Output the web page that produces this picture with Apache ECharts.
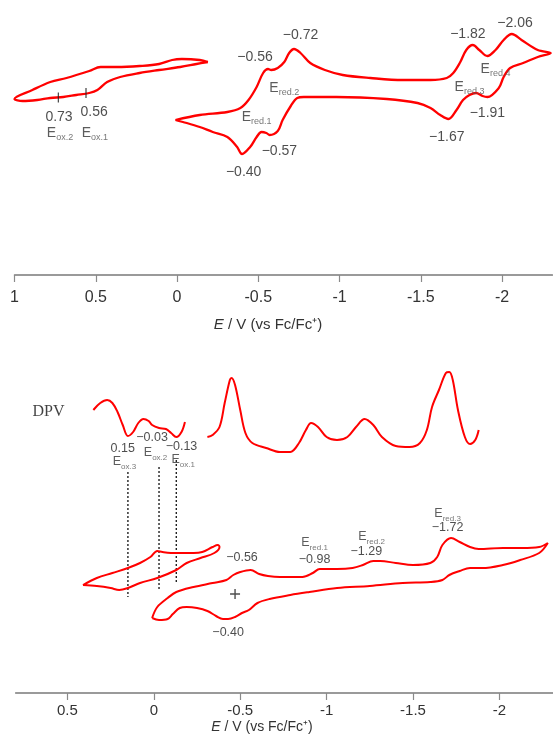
<!DOCTYPE html>
<html>
<head>
<meta charset="utf-8">
<script src="https://cdn.jsdelivr.net/npm/echarts@6/dist/echarts.min.js"></script>
<style>
  html, body { margin: 0; padding: 0; background: #fff; }
  #chart { width: 553px; height: 734px; }
</style>
</head>
<body>
<div id="chart"></div>
<script>
// Potential axis ticks (V vs Fc/Fc+)
const topTicks = [1, 0.5, 0, -0.5, -1, -1.5, -2];
const bottomTicks = [0.5, 0, -0.5, -1, -1.5, -2];

// ---------- Upper panel: CV, pairs of [E / V, current / a.u.] ----------
// anodic scan window (closed loop)
const cvTopAnodic = [
  [-0.19, 21.3], [-0.14, 21.5], [-0.03, 21.6], [0.03, 21.5], [0.11, 21.1],
  [0.23, 20.9], [0.37, 20.8], [0.47, 20.8], [0.54, 20.4], [0.68, 19.7],
  [0.78, 19.3], [0.89, 18.5], [1.0, 17.6],
  [0.95, 17.4], [0.86, 17.5], [0.78, 17.7], [0.70, 17.8], [0.62, 18.0],
  [0.54, 18.2], [0.49, 18.5], [0.43, 19.3], [0.35, 19.8], [0.23, 20.2],
  [0.11, 20.5], [-0.02, 20.8], [-0.12, 21.1], [-0.19, 21.3]
];
// cathodic scan window (closed loop)
const cvTopCathodic = [
  [0.01, 15.5], [-0.14, 16.0], [-0.31, 16.3], [-0.39, 16.7], [-0.44, 17.5],
  [-0.49, 18.8], [-0.53, 20.2], [-0.56, 20.6], [-0.58, 20.5], [-0.62, 20.7],
  [-0.66, 21.3], [-0.69, 22.2], [-0.72, 22.6], [-0.76, 22.2], [-0.82, 21.2],
  [-0.91, 20.5], [-1.02, 20.0], [-1.19, 19.7], [-1.39, 19.5], [-1.56, 19.5],
  [-1.66, 19.7], [-1.70, 20.2], [-1.74, 21.2], [-1.78, 22.5], [-1.82, 23.0],
  [-1.86, 22.5], [-1.91, 21.9], [-1.96, 22.5], [-2.01, 23.5], [-2.06, 24.1],
  [-2.12, 23.5], [-2.22, 22.5], [-2.30, 22.2],
  [-2.22, 21.8], [-2.13, 21.2], [-2.05, 20.7], [-2.01, 19.8], [-1.98, 18.7],
  [-1.91, 17.8], [-1.88, 17.9], [-1.84, 18.2], [-1.80, 18.0], [-1.76, 17.5],
  [-1.72, 16.5], [-1.67, 15.6], [-1.62, 16.0], [-1.56, 16.7], [-1.48, 17.2],
  [-1.29, 17.6], [-0.98, 17.8], [-0.78, 17.8], [-0.74, 17.7], [-0.70, 16.9],
  [-0.65, 15.5], [-0.62, 14.4], [-0.57, 14.0], [-0.55, 14.2], [-0.52, 14.3],
  [-0.49, 13.8], [-0.45, 12.8], [-0.40, 12.1], [-0.37, 12.8], [-0.31, 13.8],
  [-0.22, 14.3], [-0.14, 14.8], [-0.06, 15.2], [0.01, 15.5]
];
// anodic peak potentials marked on the return branch
const topOxMarks = [[0.73, 17.75], [0.56, 18.2]];

// ---------- Lower panel: DPV traces ----------
const dpvAnodic = [
  [0.35, 28.3], [0.31, 29.0], [0.27, 29.3], [0.24, 29.0], [0.21, 28.1],
  [0.18, 26.8], [0.15, 25.7], [0.12, 26.1], [0.09, 27.0], [0.06, 27.4],
  [0.03, 27.2], [0.01, 26.8], [-0.03, 26.5], [-0.07, 26.4], [-0.10, 26.0],
  [-0.13, 25.6], [-0.16, 26.1], [-0.18, 27.1]
];
const dpvCathodic = [
  [-0.31, 25.6], [-0.34, 25.8], [-0.38, 26.6], [-0.41, 29.0], [-0.44, 31.3],
  [-0.45, 31.5], [-0.47, 30.8], [-0.50, 28.3], [-0.53, 26.0], [-0.57, 25.0],
  [-0.65, 24.5], [-0.73, 24.1], [-0.79, 24.1], [-0.84, 25.0], [-0.88, 26.3],
  [-0.91, 27.0], [-0.95, 26.6], [-1.00, 25.6], [-1.06, 25.3], [-1.12, 25.6],
  [-1.17, 26.6], [-1.22, 27.4], [-1.27, 26.8], [-1.32, 25.6], [-1.40, 24.7],
  [-1.48, 24.6], [-1.54, 25.0], [-1.58, 26.3], [-1.61, 28.6], [-1.65, 30.3],
  [-1.69, 32.0], [-1.71, 32.1], [-1.73, 31.3], [-1.76, 28.3], [-1.80, 25.6],
  [-1.83, 24.9], [-1.86, 25.3], [-1.88, 26.3]
];

// ---------- Lower panel: CV ----------
const cvBottomAnodic = [
  [0.41, 10.8], [0.33, 11.5], [0.24, 12.0], [0.15, 12.5], [0.08, 13.0],
  [0.02, 13.6], [-0.02, 14.2], [-0.05, 14.1], [-0.13, 14.0], [-0.23, 14.0],
  [-0.28, 14.1], [-0.34, 14.6], [-0.37, 14.8], [-0.38, 14.6],
  [-0.35, 14.0], [-0.27, 13.5], [-0.19, 13.0], [-0.13, 12.3], [-0.02, 11.5],
  [0.08, 11.0], [0.15, 10.5], [0.20, 10.3], [0.25, 10.5], [0.33, 10.7],
  [0.41, 10.8]
];
const cvBottomCathodic = [
  [0.01, 7.5], [-0.02, 8.6], [-0.08, 9.5], [-0.13, 10.1], [-0.23, 10.6],
  [-0.34, 11.0], [-0.42, 11.3], [-0.46, 11.8], [-0.50, 12.1], [-0.56, 12.3],
  [-0.61, 11.9], [-0.66, 11.7], [-0.73, 11.6], [-0.86, 11.6], [-0.92, 12.0],
  [-0.96, 12.4], [-1.06, 12.4], [-1.15, 12.5], [-1.21, 12.8], [-1.27, 13.2],
  [-1.31, 13.2], [-1.40, 13.0], [-1.50, 12.8], [-1.60, 13.0], [-1.64, 13.6],
  [-1.67, 14.8], [-1.72, 15.5], [-1.77, 15.1], [-1.83, 14.6], [-1.88, 14.4],
  [-2.02, 14.5], [-2.13, 14.5], [-2.23, 14.6], [-2.28, 15.0],
  [-2.23, 14.0], [-2.12, 13.3], [-2.02, 12.8], [-1.90, 12.5], [-1.83, 12.5],
  [-1.77, 12.2], [-1.71, 11.8], [-1.67, 11.3], [-1.60, 11.1], [-1.44, 11.0],
  [-1.25, 10.7], [-1.06, 10.5], [-0.90, 10.1], [-0.79, 9.8], [-0.67, 9.4],
  [-0.60, 9.0], [-0.55, 8.3], [-0.51, 8.0], [-0.47, 7.6], [-0.43, 7.4],
  [-0.40, 7.4], [-0.36, 7.7], [-0.31, 8.2], [-0.25, 8.5], [-0.19, 8.6],
  [-0.15, 8.5], [-0.11, 7.9], [-0.08, 7.4], [-0.03, 7.3], [0.01, 7.5]
];
// DPV oxidation potentials projected onto the CV
const oxGuides = [
  [[0.15, 22.1], [0.15, 9.6]],
  [[-0.03, 22.6], [-0.03, 10.4]],
  [[-0.13, 23.3], [-0.13, 11.1]]
];
const crossMark = [[-0.47, 9.9]];

// ---------- Annotations: [E, current, text] ----------
const topNotes = [
  [-0.48, 21.8, '\u22120.56'],
  [-0.76, 24.0, '\u22120.72'],
  [-0.66, 18.7, '{e|E}{s|red.2}'],
  [-0.49, 15.8, '{e|E}{s|red.1}'],
  [-0.63, 12.4, '\u22120.57'],
  [-0.41, 10.3, '\u22120.40'],
  [-1.79, 24.1, '\u22121.82'],
  [-2.08, 25.2, '\u22122.06'],
  [-1.96, 20.6, '{e|E}{s|red.4}'],
  [-1.80, 18.8, '{e|E}{s|red.3}'],
  [-1.91, 16.2, '\u22121.91'],
  [-1.66, 13.8, '\u22121.67'],
  [0.726, 15.8, '0.73'],
  [0.72, 14.2, '{e|E}{s|ox.2}'],
  [0.51, 16.3, '0.56'],
  [0.505, 14.2, '{e|E}{s|ox.1}']
];
const bottomNotes = [
  [-0.51, 13.5, '\u22120.56'],
  [-0.43, 6.0, '\u22120.40'],
  [-0.93, 15.0, '{e|E}{s|red.1}'],
  [-0.93, 13.3, '\u22120.98'],
  [-1.26, 15.6, '{e|E}{s|red.2}'],
  [-1.23, 14.1, '\u22121.29'],
  [-1.70, 17.9, '{e|E}{s|red.3}'],
  [-1.70, 16.5, '\u22121.72'],
  [0.18, 24.4, '0.15'],
  [0.17, 23.1, '{e|E}{s|ox.3}'],
  [0.01, 25.5, '\u22120.03'],
  [-0.01, 24.0, '{e|E}{s|ox.2}'],
  [-0.16, 24.6, '\u22120.13'],
  [-0.17, 23.3, '{e|E}{s|ox.1}'],
  [0.61, 28.1, '{d|DPV}']
];

const FONT = '"Liberation Sans", Arial, Helvetica, sans-serif';
const RED = '#ff0000';

function trace(data, gi, width) {
  return {
    type: 'line', xAxisIndex: gi, yAxisIndex: gi, data: data,
    symbol: 'none', smooth: 0.35, clip: false, silent: true,
    lineStyle: { color: RED, width: width }, z: 3
  };
}

function notes(list, gi, size, sub) {
  return {
    type: 'scatter', xAxisIndex: gi, yAxisIndex: gi, symbolSize: 0,
    clip: false, silent: true, z: 5,
    data: list.map(n => ({ value: [n[0], n[1]], name: n[2] })),
    label: {
      show: true, position: 'inside', formatter: p => p.name,
      color: '#222', fontSize: size, fontFamily: FONT,
      rich: {
        e: { fontSize: size, lineHeight: size + 5, color: '#333', fontFamily: FONT },
        s: { fontSize: sub, lineHeight: sub, verticalAlign: 'bottom', color: '#555', fontFamily: FONT },
        d: { fontSize: 16, color: '#111', fontFamily: '"Liberation Serif", "Times New Roman", serif' }
      }
    }
  };
}

function potentialAxis(gi, min, max, ticks, labelSize, margin) {
  return {
    type: 'value', gridIndex: gi, min: min, max: max, inverse: true,
    axisLine: { onZero: false, lineStyle: { color: '#7a7a7a', width: 1.5 } },
    axisTick: { show: true, length: 7, customValues: ticks, lineStyle: { color: '#8a8a8a', width: 1.2 } },
    axisLabel: { customValues: ticks, fontSize: labelSize, margin: margin, color: '#333', fontFamily: FONT },
    splitLine: { show: false }
  };
}

const chart = echarts.init(document.getElementById('chart'), null, { renderer: 'canvas' });
chart.setOption({
  animation: false,
  backgroundColor: '#fff',
  grid: [
    { left: 14.5, right: 0.6, top: 0, height: 275 },
    { left: 15.6, right: -0.6, top: 343, height: 350 }
  ],
  xAxis: [
    potentialAxis(0, -2.31, 1, topTicks, 16, 15),
    potentialAxis(1, -2.31, 0.8, bottomTicks, 15, 10)
  ],
  yAxis: [
    { type: 'value', gridIndex: 0, min: 0, max: 27.5, show: false },
    { type: 'value', gridIndex: 1, min: 0, max: 35, show: false }
  ],
  graphic: [
    {
      type: 'text', x: 268, y: 325,
      style: {
        text: '{i|E} / V (vs Fc/Fc\u207A)', fill: '#333', fontSize: 15, fontFamily: FONT,
        align: 'center', verticalAlign: 'middle',
        rich: { i: { fontStyle: 'italic', fontSize: 15, fontFamily: FONT, fill: '#333' } }
      }
    },
    {
      type: 'text', x: 262, y: 727,
      style: {
        text: '{i|E} / V (vs Fc/Fc\u207A)', fill: '#333', fontSize: 14, fontFamily: FONT,
        align: 'center', verticalAlign: 'middle',
        rich: { i: { fontStyle: 'italic', fontSize: 14, fontFamily: FONT, fill: '#333' } }
      }
    }
  ],
  series: [
    trace(cvTopAnodic, 0, 2.3),
    trace(cvTopCathodic, 0, 2.3),
    {
      type: 'scatter', xAxisIndex: 0, yAxisIndex: 0, data: topOxMarks,
      symbol: 'rect', symbolSize: [1.3, 10], itemStyle: { color: '#222' }, silent: true, z: 4
    },
    notes(topNotes, 0, 14, 9),
    trace(dpvAnodic, 1, 2),
    trace(dpvCathodic, 1, 2),
    trace(cvBottomAnodic, 1, 2),
    trace(cvBottomCathodic, 1, 2),
    ...oxGuides.map(g => ({
      type: 'line', xAxisIndex: 1, yAxisIndex: 1, data: g, symbol: 'none', silent: true,
      lineStyle: { color: '#222', width: 1.4, type: [2, 2] }, z: 2
    })),
    {
      type: 'scatter', xAxisIndex: 1, yAxisIndex: 1, data: crossMark, silent: true, z: 4,
      symbol: 'path://M4.3,0H5.7V4.3H10V5.7H5.7V10H4.3V5.7H0V4.3H4.3Z', symbolSize: 10,
      itemStyle: { color: '#222' }
    },
    notes(bottomNotes, 1, 12.5, 8)
  ]
});
</script>
</body>
</html>
